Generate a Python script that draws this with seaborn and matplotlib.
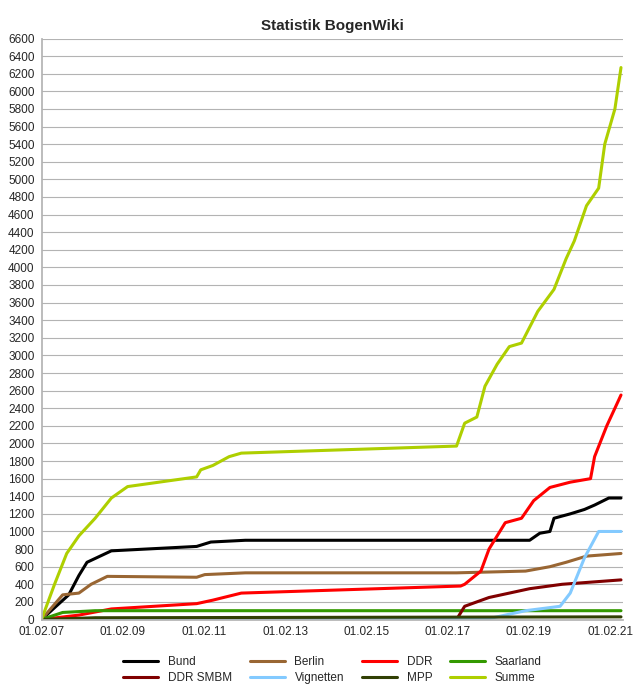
import numpy as np
import pandas as pd
import seaborn as sns
import matplotlib.pyplot as plt

sns.set_theme(style="white")
plt.rcParams['font.family'] = ['Liberation Sans', 'DejaVu Sans']

# x positions
summe_x = [2007.08, 2007.4, 2007.7, 2008.0, 2008.4, 2008.8, 2009.2, 2010.9, 2011.0, 2011.3, 2011.7, 2012.0,
           2017.3, 2017.5, 2017.8, 2018.0, 2018.3, 2018.6, 2018.9, 2019.3, 2019.7, 2020.0, 2020.2, 2020.5,
           2020.8, 2020.95, 2021.2, 2021.35]
summe_y = [0, 400, 750, 950, 1150, 1380, 1510, 1620, 1700, 1750, 1850, 1890,
           1970, 2230, 2300, 2650, 2900, 3100, 3140, 3500, 3750, 4100, 4300, 4700,
           4900, 5400, 5800, 6270]
bund_x = [2007.08, 2007.75, 2008.0, 2008.2, 2008.8, 2010.9, 2011.25, 2012.1, 2019.1, 2019.35, 2019.6, 2019.7,
          2020.1, 2020.45, 2020.7, 2021.05, 2021.35]
bund_y = [0, 280, 500, 650, 780, 830, 880, 900, 900, 980, 1000, 1150, 1200, 1250, 1300, 1380, 1380]
berlin_x = [2007.08, 2007.6, 2008.0, 2008.3, 2008.7, 2010.9, 2011.1, 2012.1, 2017.3, 2019.0, 2019.6, 2020.0,
            2020.5, 2021.35]
berlin_y = [0, 280, 300, 400, 490, 480, 510, 530, 530, 550, 600, 650, 720, 750]
ddr_x = [2007.08, 2008.0, 2008.8, 2010.9, 2011.3, 2012.0, 2017.4, 2017.5, 2017.9, 2018.1, 2018.5, 2018.9,
         2019.2, 2019.6, 2020.1, 2020.6, 2020.7, 2021.0, 2021.35]
ddr_y = [0, 50, 120, 180, 220, 300, 380, 400, 550, 800, 1100, 1150, 1350, 1500, 1560, 1600, 1850, 2200, 2550]
saar_x = [2007.08, 2007.6, 2008.4, 2021.35]
saar_y = [0, 80, 100, 100]
smbm_x = [2007.08, 2017.3, 2017.5, 2018.1, 2019.1, 2019.9, 2021.35]
smbm_y = [0, 0, 150, 250, 350, 400, 450]
vign_x = [2007.08, 2018.0, 2019.0, 2019.85, 2020.1, 2020.45, 2020.8, 2021.35]
vign_y = [0, 0, 100, 150, 300, 700, 1000, 1000]
mpp_x = [2007.08, 2008.4, 2021.35]
mpp_y = [0, 20, 30]

series = [
    ("Bund", bund_x, bund_y, "#000000"),
    ("Berlin", berlin_x, berlin_y, "#996633"),
    ("DDR", ddr_x, ddr_y, "#ff0000"),
    ("Saarland", saar_x, saar_y, "#339900"),
    ("DDR SMBM", smbm_x, smbm_y, "#800000"),
    ("Vignetten", vign_x, vign_y, "#83caff"),
    ("MPP", mpp_x, mpp_y, "#314004"),
    ("Summe", summe_x, summe_y, "#aecf00"),
]

fig, ax = plt.subplots(figsize=(6.39, 7.0), dpi=100)
for name, xs, ys, col in series:
    sns.lineplot(x=xs, y=ys, ax=ax, color=col, linewidth=2.2, label=name)

ax.set_xlim(2007.08, 2021.4)
ax.set_ylim(0, 6600)
ax.set_yticks(np.arange(0, 6601, 200))
ax.set_yticklabels([str(v) for v in range(0, 6601, 200)], fontsize=8.5)
xt = [2007.08 + 2 * k for k in range(8)]
ax.set_xticks(xt)
ax.set_xticklabels(["01.02.%02d" % (7 + 2 * k) for k in range(8)], fontsize=8.5)
ax.grid(axis="y", color="#b3b3b3", linewidth=0.8)
for s in ["top", "right"]:
    ax.spines[s].set_visible(False)
for s in ["left", "bottom"]:
    ax.spines[s].set_color("#b3b3b3")
ax.tick_params(axis="both", length=3, color="#b3b3b3", pad=2)
ax.set_title("Statistik BogenWiki", fontsize=11, fontweight="bold")

# row-wise legend order: matplotlib fills columns first
handles, labels = ax.get_legend_handles_labels()
order = [0, 4, 1, 5, 2, 6, 3, 7]
ax.legend([handles[i] for i in order], [labels[i] for i in order], ncol=4, loc="upper center",
          bbox_to_anchor=(0.5, -0.045), frameon=False,
          fontsize=8.5, handlelength=3, columnspacing=1.5, labelspacing=0.3)
fig.subplots_adjust(left=0.065, right=0.975, top=0.945, bottom=0.115)
fig.savefig("out.png")
